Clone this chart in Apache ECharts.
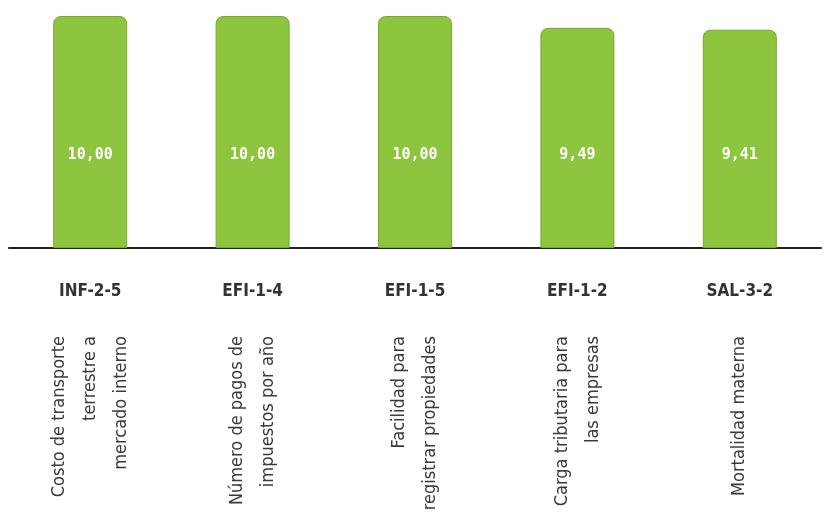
<!DOCTYPE html>
<html>
<head>
<meta charset="utf-8">
<script src="https://cdn.jsdelivr.net/npm/echarts@6/dist/echarts.min.js"></script>
<style>
html,body{margin:0;padding:0;background:#ffffff;}
#chart{width:827px;height:524px;}
</style>
</head>
<body>
<div id="chart"></div>
<script>
var codes = ['INF-2-5', 'EFI-1-4', 'EFI-1-5', 'EFI-1-2', 'SAL-3-2'];
var descriptions = [
  'Costo de transporte\nterrestre a\nmercado interno',
  'Número de pagos de\nimpuestos por año',
  'Facilidad para\nregistrar propiedades',
  'Carga tributaria para\nlas empresas',
  'Mortalidad materna'
];
var values = [10.00, 10.00, 10.00, 9.49, 9.41];

var chart = echarts.init(document.getElementById('chart'));
var condensed = "'DejaVu Sans Condensed', 'Liberation Sans Narrow', 'Roboto', sans-serif";
chart.setOption({
  animation: false,
  backgroundColor: '#ffffff',
  grid: { left: 9, right: 6, top: 16, bottom: 276 },
  xAxis: [
    {
      type: 'category',
      data: codes,
      position: 'bottom',
      axisLine: { show: true, lineStyle: { color: '#222222', width: 2 } },
      axisTick: { show: false },
      axisLabel: {
        interval: 0,
        margin: 35,
        fontSize: 17,
        fontWeight: 'bold',
        color: '#333333',
        fontFamily: condensed
      }
    },
    {
      type: 'category',
      data: descriptions,
      position: 'bottom',
      axisLine: { show: false },
      axisTick: { show: false },
      axisLabel: {
        interval: 0,
        rotate: 90,
        margin: 88,
        fontSize: 18,
        lineHeight: 31,
        color: '#3a3a3a',
        fontFamily: condensed
      }
    }
  ],
  yAxis: {
    type: 'value',
    min: 0,
    max: 10,
    show: false,
    splitLine: { show: false }
  },
  series: [{
    type: 'bar',
    xAxisIndex: 0,
    data: values,
    barWidth: 74,
    itemStyle: {
      color: '#8dc63e',
      borderColor: '#76a830',
      borderWidth: 1,
      borderRadius: [7, 7, 0, 0]
    },
    label: {
      show: true,
      position: 'insideBottom',
      distance: 85,
      color: '#ffffff',
      fontSize: 15,
      fontWeight: 'bold',
      fontFamily: "'DejaVu Sans Mono', monospace",
      formatter: function (p) { return p.value.toFixed(2).replace('.', ','); }
    }
  }]
});
</script>
</body>
</html>
